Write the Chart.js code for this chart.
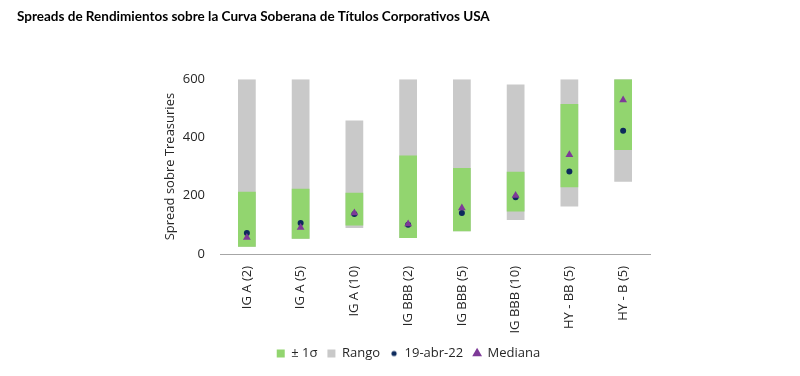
<!DOCTYPE html>
<html>
<head>
<meta charset="utf-8">
<script src="https://cdn.jsdelivr.net/npm/chart.js@4.4.1/dist/chart.umd.min.js"></script>
<style>
  html, body { margin: 0; padding: 0; background: #fff; }
  #wrap { width: 800px; height: 376px; }
</style>
</head>
<body>
<div id="wrap"><canvas id="chart_spreads" width="800" height="376"></canvas></div>
<script>
const categories = ['IG A (2)', 'IG A (5)', 'IG A (10)', 'IG BBB (2)', 'IG BBB (5)', 'IG BBB (10)', 'HY - BB (5)', 'HY - B (5)'];
const rangoMin = [25, 52, 89, 55, 78, 117, 163, 248];
const rangoMax = [600, 600, 458, 600, 600, 582, 600, 600];
const sigmaLow = [25, 52, 98, 55, 78, 146, 229, 357];
const sigmaHigh = [214, 224, 210, 338, 295, 282, 515, 600];
const actual = [72, 106, 137, 100, 141, 195, 283, 423];
const mediana = [57, 91, 141, 103, 158, 201, 341, 529];
const yTicks = [0, 200, 400, 600];

const font = "'Open Sans', 'Noto Sans', sans-serif";

// small dot for the legend (default legend circle is too big)
const dotImg = document.createElement('canvas');
dotImg.width = 8; dotImg.height = 8;
(function () {
  const c = dotImg.getContext('2d');
  c.fillStyle = '#0d2a5c';
  c.beginPath();
  c.arc(4, 4, 2.6, 0, Math.PI * 2);
  c.fill();
})();

const ctx = document.getElementById('chart_spreads').getContext('2d');
new Chart(ctx, {
  data: {
    labels: categories,
    datasets: [
      {
        type: 'bar',
        label: '± 1σ',
        data: sigmaLow.map((v, i) => [v, sigmaHigh[i]]),
        backgroundColor: '#92d56f',
        pointStyle: 'rect',
        grouped: false,
        order: 2
      },
      {
        type: 'bar',
        label: 'Rango',
        data: rangoMin.map((v, i) => [v, rangoMax[i]]),
        backgroundColor: '#c9c9c9',
        pointStyle: 'rect',
        grouped: false,
        order: 3
      },
      {
        type: 'line',
        label: '19-abr-22',
        data: actual,
        showLine: false,
        pointStyle: 'circle',
        pointRadius: 3,
        pointBackgroundColor: '#0d2a5c',
        pointBorderWidth: 0,
        backgroundColor: '#0d2a5c',
        borderColor: '#0d2a5c',
        order: 1
      },
      {
        type: 'line',
        label: 'Mediana',
        data: mediana,
        showLine: false,
        pointStyle: 'triangle',
        pointRadius: 4.5,
        pointBackgroundColor: '#7e3a98',
        pointBorderWidth: 0,
        backgroundColor: '#7e3a98',
        borderColor: '#7e3a98',
        order: 0
      }
    ]
  },
  options: {
    responsive: false,
    animation: false,
    layout: { padding: { left: 17, right: 0, top: 0, bottom: 6 } },
    datasets: { bar: { categoryPercentage: 1, barPercentage: 0.33 } },
    plugins: {
      tooltip: { enabled: false },
      title: {
        display: true,
        text: 'Spreads de Rendimientos sobre la Curva Soberana de Títulos Corporativos USA',
        align: 'start',
        color: '#000',
        font: { family: "Lato, 'Open Sans', sans-serif", size: 13.5, weight: 'bold' },
        padding: { top: 9, bottom: 54 }
      },
      legend: {
        display: true,
        position: 'bottom',
        labels: {
          usePointStyle: true,
          boxWidth: 8,
          boxHeight: 8,
          padding: 10,
          color: '#262626',
          font: { family: font, size: 13 },
          sort: (a, b) => a.datasetIndex - b.datasetIndex,
          generateLabels: chart => {
            const items = Chart.defaults.plugins.legend.labels.generateLabels(chart);
            items.forEach(it => { if (it.datasetIndex === 2) it.pointStyle = dotImg; });
            return items;
          }
        }
      }
    },
    scales: {
      x: {
        grid: { display: false, drawTicks: false },
        border: { display: true, color: '#a6a6a6', width: 1 },
        ticks: { color: '#262626', font: { family: font, size: 13 }, minRotation: 90, maxRotation: 90, padding: 12 },
        afterFit: s => { s.height = 83; }
      },
      y: {
        min: 0,
        max: 600,
        afterBuildTicks: s => { s.ticks = yTicks.map(v => ({ value: v })); },
        grid: { display: false, drawTicks: false },
        border: { display: false },
        ticks: { color: '#262626', font: { family: font, size: 13 }, padding: 15 },
        title: {
          display: true,
          text: 'Spread sobre Treasuries',
          color: '#262626',
          font: { family: font, size: 13 },
          padding: { top: 145, bottom: 0 }
        },
        afterFit: s => { s.width = 203; }
      },
      yRight: {
        position: 'right',
        display: true,
        grid: { display: false, drawTicks: false },
        border: { display: false },
        ticks: { display: false },
        afterFit: s => { s.width = 150; }
      }
    }
  }
});
</script>
</body>
</html>
